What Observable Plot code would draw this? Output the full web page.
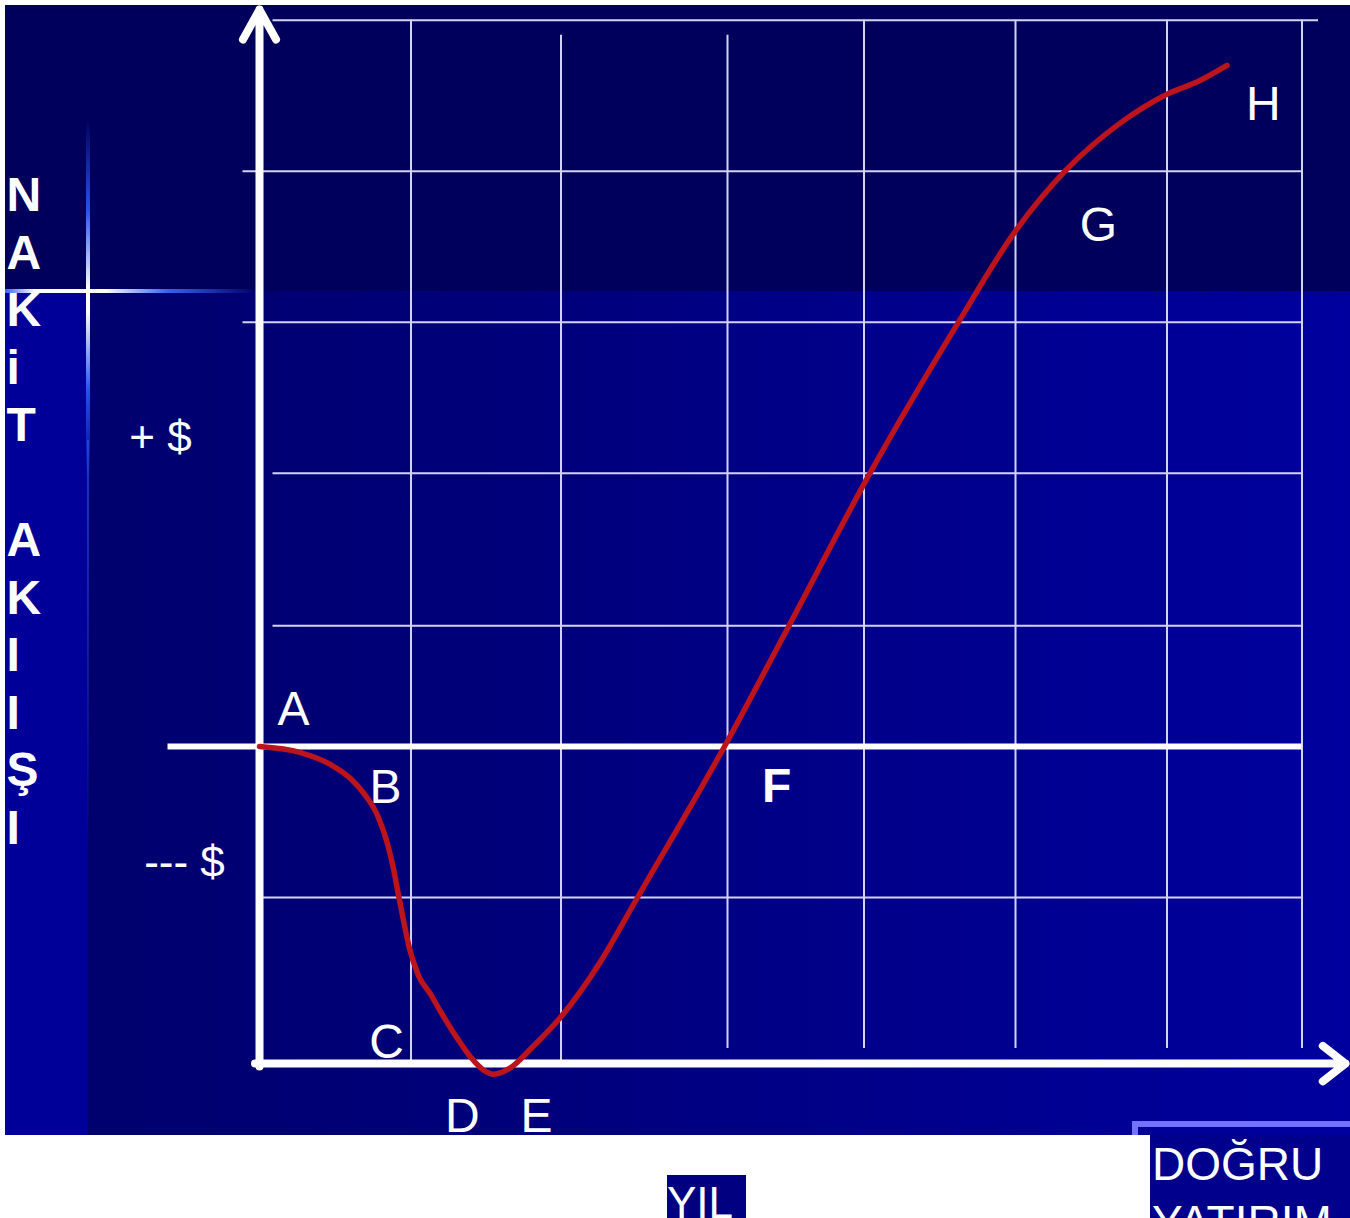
<!DOCTYPE html>
<html>
<head>
<meta charset="utf-8">
<script src="https://cdn.jsdelivr.net/npm/d3@7"></script>
<script src="https://cdn.jsdelivr.net/npm/@observablehq/plot@0.6"></script>
<style>
  html, body { margin: 0; padding: 0; background: #ffffff; }
  #page { position: relative; width: 1350px; height: 1218px; overflow: hidden; font-family: "Liberation Sans", Arial, sans-serif; }
  #slide { position: absolute; left: 5px; top: 5px; width: 1345px; height: 1130px;
    background:
      linear-gradient(to bottom, #00005c 0, #00005c 286px, rgba(0,0,0,0) 286px),
      linear-gradient(to right, #000098 0, #000098 83px, #00006e 83px, #000078 450px, #00009e 100%);
  }
  .glowV { position: absolute; left: 86px; top: 120px; width: 4px; height: 360px;
    background: linear-gradient(to bottom, rgba(40,90,255,0) 0, rgba(40,90,255,0.9) 25%, #ffffff 47%, #ffffff 53%, rgba(40,90,255,0.9) 75%, rgba(40,90,255,0) 100%); }
  .glowV2 { position: absolute; left: 87px; top: 440px; width: 2px; height: 420px;
    background: linear-gradient(to bottom, rgba(40,90,255,0.6), rgba(40,90,255,0)); }
  .glowH { position: absolute; left: 5px; top: 289px; width: 250px; height: 4px;
    background: linear-gradient(to right, rgba(60,110,255,0.9) 0, #ffffff 12%, #ffffff 40%, rgba(60,110,255,0.9) 65%, rgba(60,110,255,0) 100%); }
  #chart { position: absolute; left: 5px; top: 5px; }
  #frame { position: absolute; left: 1132px; top: 1121px; width: 218px; height: 14px; box-sizing: border-box;
    border-top: 6px solid #7272ff; border-left: 6px solid #7272ff; }
  #dogru { position: absolute; left: 1150px; top: 1135px; width: 200px; height: 83px; overflow: hidden;
    background: #00008c; color: #ffffff; font-size: 46px; line-height: 58px; white-space: nowrap; padding-left: 2px; box-sizing: border-box; }
  #yil { position: absolute; left: 667px; top: 1175px; width: 79px; height: 43px; overflow: hidden;
    background: #000080; color: #ffffff; font-size: 44px; line-height: 44px; padding-top: 6px; box-sizing: border-box; white-space: nowrap; }
</style>
</head>
<body>
<div id="page">
  <div id="slide"></div>
  <div class="glowV"></div>
  <div class="glowV2"></div>
  <div class="glowH"></div>
  <div id="chart"></div>
  <div id="frame"></div>
  <div id="dogru">DOĞRU<br>YATIRIM</div>
  <div id="yil">YIL</div>
</div>
<script>
// ---- data (x: years, y: cash flow units) ----
const cashX = [0, 0.273, 0.473, 0.607, 0.707, 0.787, 0.847, 0.893, 0.927, 0.96, 1.0, 1.06, 1.14, 1.21, 1.31, 1.41, 1.49, 1.56, 1.67, 1.81, 2.01, 2.27, 2.52, 3.10, 3.53, 4.07, 4.66, 5.03, 5.37, 5.74, 6.05, 6.27, 6.45];
const cashY = [0, -0.04, -0.119, -0.212, -0.325, -0.457, -0.623, -0.808, -0.987, -1.152, -1.338, -1.517, -1.64, -1.76, -1.92, -2.06, -2.14, -2.17, -2.13, -2.00, -1.79, -1.43, -1.00, 0, 0.80, 1.81, 2.81, 3.40, 3.81, 4.13, 4.32, 4.41, 4.51];

// grid (hand-drawn, slightly uneven)
const gridXValues = [1.01, 2.01, 3.12, 4.03, 5.04, 6.05, 6.95];
const gridXTop    = [4.81, 4.71, 4.71, 4.81, 4.81, 4.81, 4.81];
const gridXBottom = [-2.10, -2.08, -2.00, -2.00, -2.00, -2.00, -2.00];
const gridYValues = [4.81, 3.81, 2.81, 1.81, 0.80, -1.00];
const gridYLeft   = [0.09, -0.11, -0.11, 0.09, 0.09, 0.02];
const gridYRight  = [7.06, 6.95, 6.95, 6.95, 6.95, 6.95];

// point labels
const pointLabels = ["A", "B", "C", "D", "E", "G", "H"];
const pointLabelX = [0.227, 0.84, 0.847, 1.353, 1.847, 5.593, 6.693];
const pointLabelY = [0.245, -0.272, -1.96, -2.45, -2.45, 3.45, 4.252];
const breakEvenLabel = "F";
const breakEvenX = [3.447];
const breakEvenY = [-0.265];

const signLabels = ["+ $", "--- $"];
const signX = [-0.66, -0.50];
const signY = [2.046, -0.768];

const titleLetters = ["N", "A", "K", "i", "T", "\u00a0", "A", "K", "I", "I", "Ş", "I"];
const axisXLabel = "YIL";

// ---- tables built from arrays ----
const curve = cashX.map((x, i) => ({x, y: cashY[i]}));
const vGrid = gridXValues.map((x, i) => ({x, y1: gridXBottom[i], y2: gridXTop[i]}));
const hGrid = gridYValues.map((y, i) => ({y, x1: gridYLeft[i], x2: gridYRight[i]}));
const labels = pointLabels.map((t, i) => ({t, x: pointLabelX[i], y: pointLabelY[i]}));
const signs = signLabels.map((t, i) => ({t, x: signX[i], y: signY[i]}));

const font = "Liberation Sans, Arial, sans-serif";

const chart = Plot.plot({
  width: 1345,
  height: 1213,
  margin: 0,
  x: {domain: [-254 / 150, 1091 / 150], range: [0, 1345], axis: null},
  y: {domain: [-389 / 151, 741 / 151], range: [1130, 0], axis: null},
  style: {background: "transparent", fontFamily: font, color: "white", overflow: "hidden"},
  marks: [
    Plot.ruleX(vGrid, {x: "x", y1: "y1", y2: "y2", stroke: "#d2d3f4", strokeWidth: 2}),
    Plot.ruleY(hGrid, {y: "y", x1: "x1", x2: "x2", stroke: "#d2d3f4", strokeWidth: 2}),
    // zero line
    Plot.ruleY([0], {x1: -0.61, x2: 6.95, stroke: "white", strokeWidth: 6}),
    // y axis with arrow
    Plot.arrow([{x: 0, y1: -2.12, y2: 4.88}], {x1: "x", x2: "x", y1: "y1", y2: "y2", stroke: "white", strokeWidth: 8, headLength: 6.4, headAngle: 58, strokeLinecap: "round", strokeLinejoin: "round"}),
    // x axis with arrow
    Plot.arrow([{y: -2.1, x1: -0.03, x2: 7.24}], {y1: "y", y2: "y", x1: "x1", x2: "x2", stroke: "white", strokeWidth: 8, headLength: 5.4, headAngle: 76, strokeLinecap: "round", strokeLinejoin: "round"}),
    // vertical title
    Plot.text([titleLetters.join("\n")], {x: -1.687, y: 3.815, text: d => d, textAnchor: "start", lineAnchor: "top", lineHeight: 1.198, fontSize: 48, fontWeight: "bold", fill: "white", fontFamily: font}),
    Plot.text(signs, {x: "x", y: "y", text: "t", fontSize: 44, fill: "white", fontFamily: font, lineAnchor: "middle"}),
    Plot.text(labels, {x: "x", y: "y", text: "t", fontSize: 48, fill: "white", fontFamily: font, lineAnchor: "middle"}),
    Plot.text([breakEvenLabel], {x: breakEvenX, y: breakEvenY, text: d => d, fontSize: 48, fontWeight: "bold", fill: "white", fontFamily: font, lineAnchor: "middle"}),
    // cash flow curve
    Plot.line(curve, {x: "x", y: "y", stroke: "#bb141c", strokeWidth: 5.5, curve: "monotone-x", strokeLinecap: "round"})
  ]
});
document.getElementById("chart").appendChild(chart);
document.getElementById("yil").textContent = axisXLabel;
</script>
</body>
</html>
